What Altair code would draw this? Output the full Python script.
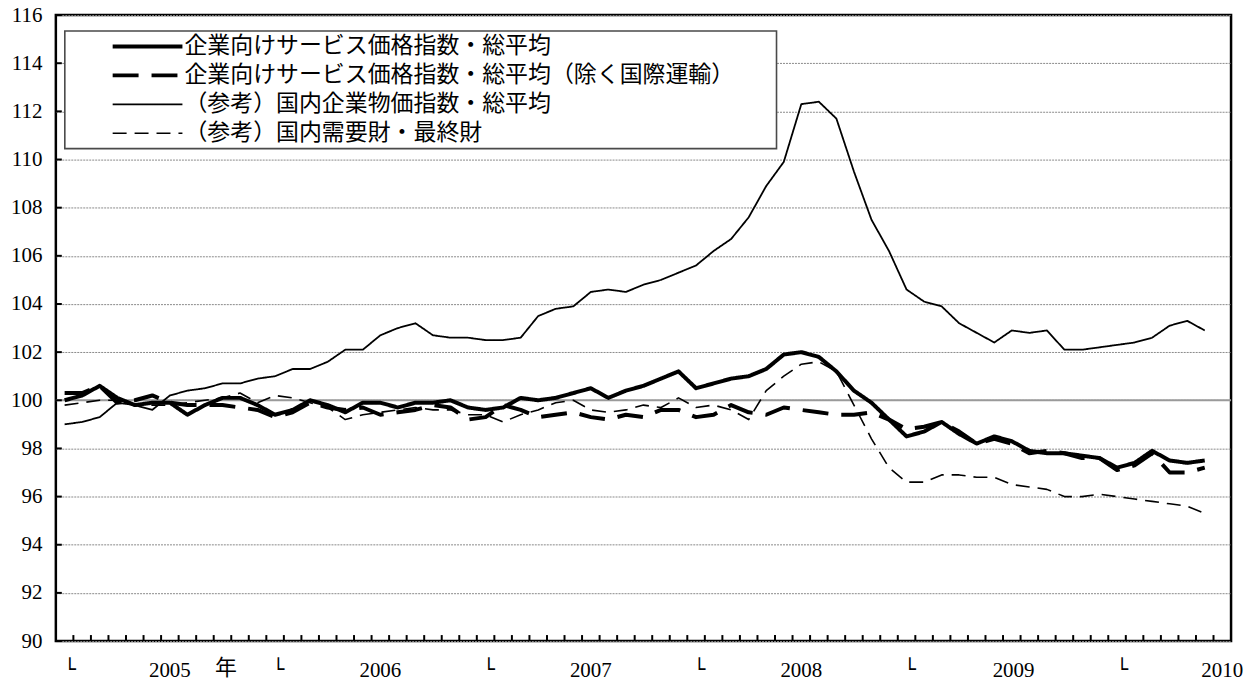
import altair as alt
import pandas as pd

# ---------------- data ----------------
months = [f"{2005 + i // 12}-{i % 12 + 1:02d}" for i in range(66)]  # 2005-01 .. 2010-06

series_names = [
    "企業向けサービス価格指数・総平均",
    "企業向けサービス価格指数・総平均（除く国際運輸）",
    "（参考）国内企業物価指数・総平均",
    "（参考）国内需要財・最終財",
]

cspi = [100.0, 100.2, 100.6, 100.1, 99.8, 99.9, 99.9, 99.4, 99.8, 100.1, 100.1, 99.8,
        99.4, 99.6, 100.0, 99.8, 99.5, 99.9, 99.9, 99.7, 99.9, 99.9, 100.0, 99.7,
        99.6, 99.7, 100.1, 100.0, 100.1, 100.3, 100.5, 100.1, 100.4, 100.6, 100.9, 101.2,
        100.5, 100.7, 100.9, 101.0, 101.3, 101.9, 102.0, 101.8, 101.2, 100.4, 99.9, 99.2,
        98.5, 98.7, 99.1, 98.6, 98.2, 98.5, 98.3, 97.9, 97.8, 97.8, 97.7, 97.6,
        97.2, 97.4, 97.9, 97.5, 97.4, 97.5]

cspi_ex = [100.3, 100.3, 100.6, 99.9, 100.0, 100.2, 99.9, 99.8, 99.8, 99.8, 99.7, 99.6,
           99.3, 99.5, 99.9, 99.7, 99.6, 99.7, 99.4, 99.5, 99.6, 99.8, 99.7, 99.2,
           99.3, 99.8, 99.6, 99.3, 99.4, 99.5, 99.3, 99.2, 99.4, 99.3, 99.6, 99.6,
           99.3, 99.4, 99.8, 99.5, 99.4, 99.7, 99.6, 99.5, 99.4, 99.4, 99.5, 99.2,
           98.8, 98.9, 99.1, 98.7, 98.2, 98.4, 98.2, 97.8, 97.9, 97.8, 97.6, 97.6,
           97.1, 97.3, 97.8, 97.0, 97.0, 97.2]

cgpi = [99.0, 99.1, 99.3, 99.9, 99.8, 99.6, 100.2, 100.4, 100.5, 100.7, 100.7, 100.9,
        101.0, 101.3, 101.3, 101.6, 102.1, 102.1, 102.7, 103.0, 103.2, 102.7, 102.6, 102.6,
        102.5, 102.5, 102.6, 103.5, 103.8, 103.9, 104.5, 104.6, 104.5, 104.8, 105.0, 105.3,
        105.6, 106.2, 106.7, 107.6, 108.9, 109.9, 112.3, 112.4, 111.7, 109.5, 107.5, 106.2,
        104.6, 104.1, 103.9, 103.2, 102.8, 102.4, 102.9, 102.8, 102.9, 102.1, 102.1, 102.2,
        102.3, 102.4, 102.6, 103.1, 103.3, 102.9]

final_goods = [99.8, 99.9, 100.0, 100.0, 99.8, 99.8, 99.8, 99.9, 100.0, 100.1, 100.3, 99.9,
               100.2, 100.1, 99.9, 99.7, 99.2, 99.4, 99.5, 99.6, 99.7, 99.6, 99.6, 99.4,
               99.4, 99.1, 99.4, 99.6, 99.9, 100.0, 99.6, 99.5, 99.6, 99.8, 99.7, 100.1,
               99.7, 99.8, 99.6, 99.2, 100.4, 101.0, 101.5, 101.6, 101.2, 99.8, 98.4, 97.2,
               96.6, 96.6, 96.9, 96.9, 96.8, 96.8, 96.5, 96.4, 96.3, 96.0, 96.0, 96.1,
               96.0, 95.9, 95.8, 95.7, 95.6, 95.3]

y_ticks = [90, 92, 94, 96, 98, 100, 102, 104, 106, 108, 110, 112, 114, 116]
ref_level = [100]
x_tick_pos = [i + 0.5 for i in range(66)]  # month boundaries
corner_text = ["└", "└", "└", "└", "└", "└"]
corner_pos = [0.3, 12.2, 24.2, 36.2, 48.2, 60.3]
year_text = ["2005", "2006", "2007", "2008", "2009", "2010"]
year_pos = [6.0, 18.0, 30.0, 42.0, 54.1, 66.0]
nen_text = ["年"]
nen_pos = [9.2]
title_text = ["（2005年平均=100）"]

# ---------------- tables ----------------
rows = []
for name, vals in zip(series_names, [cspi, cspi_ex, cgpi, final_goods]):
    for i, (mo, v) in enumerate(zip(months, vals)):
        rows.append({"series": name, "month": mo, "m": i, "value": v})
df = pd.DataFrame(rows)

xscale = alt.Scale(domain=[-0.5, 66.5], nice=False, zero=False)
yscale = alt.Scale(domain=[90, 116], nice=False, zero=False)

W, H = 1179, 628
JP = "Noto Sans CJK JP"
SERIF = "Liberation Serif"

yaxis = alt.Axis(
    values=y_ticks, title=None, grid=True, gridColor="#8a8a8a", gridDash=[2, 1], gridWidth=1,
    ticks=False, domain=False, labelFont=SERIF, labelFontSize=21, labelColor="black",
    labelPadding=14, labelOverlap=False)

legend = alt.Legend(
    title=None, orient="none", legendX=9, legendY=16,
    strokeColor="transparent", padding=4,
    symbolType="stroke", symbolSize=4900, symbolOffset=42, symbolStrokeColor="black",
    clipHeight=23, rowPadding=5,
    labelFont=JP, labelFontSize=23, labelColor="black", labelOffset=0, labelLimit=1000,
)

# legend frame (white box with grey border, behind the legend entries)
frame = alt.Chart(pd.DataFrame({"k": [0]})).mark_rect(
    fill="white", stroke="#4a4a4a", strokeWidth=1.6).encode(
    x=alt.value(9), x2=alt.value(723), y=alt.value(16), y2=alt.value(134))

lines = alt.Chart(df).mark_line(color="black", strokeJoin="round").encode(
    x=alt.X("m:Q", scale=xscale, axis=None),
    y=alt.Y("value:Q", scale=yscale, axis=yaxis),
    strokeDash=alt.StrokeDash("series:N", scale=alt.Scale(
        domain=series_names, range=[[1, 0], [26, 13], [1, 0], [14, 8]]), legend=legend),
    strokeWidth=alt.StrokeWidth("series:N", scale=alt.Scale(
        type="ordinal", domain=series_names, range=[4, 4, 1.8, 1.6]), legend=legend),
)

ref_df = pd.DataFrame({"v": ref_level})
ref_rule = alt.Chart(ref_df).mark_rule(color="#9a9a9a", strokeWidth=2).encode(
    y=alt.Y("v:Q", scale=yscale, axis=yaxis))

yt_df = pd.DataFrame({"v": y_ticks})
y_tick_marks = alt.Chart(yt_df).mark_rule(color="black", strokeWidth=2).encode(
    y=alt.Y("v:Q", scale=yscale, axis=yaxis), x=alt.value(0), x2=alt.value(6))

xt_df = pd.DataFrame({"m": x_tick_pos})
x_tick_marks = alt.Chart(xt_df).mark_rule(color="black", strokeWidth=2).encode(
    x=alt.X("m:Q", scale=xscale, axis=None), y=alt.value(H), y2=alt.value(H - 6))

corner_df = pd.DataFrame({"t": corner_text, "m": corner_pos})
corner_lbl = alt.Chart(corner_df).mark_text(
    font="DejaVu Sans", fontSize=20, color="black", align="center", baseline="alphabetic").encode(
    x=alt.X("m:Q", scale=xscale, axis=None), y=alt.value(H + 35), text="t:N")

year_df = pd.DataFrame({"t": year_text, "m": year_pos})
year_lbl = alt.Chart(year_df).mark_text(
    font=SERIF, fontSize=21, color="black", align="center", baseline="alphabetic").encode(
    x=alt.X("m:Q", scale=xscale, axis=None), y=alt.value(H + 36), text="t:N")

nen_df = pd.DataFrame({"t": nen_text, "m": nen_pos})
nen_lbl = alt.Chart(nen_df).mark_text(
    font=JP, fontSize=22, color="black", align="center", baseline="alphabetic").encode(
    x=alt.X("m:Q", scale=xscale, axis=None), y=alt.value(H + 34), text="t:N")

title_df = pd.DataFrame({"t": title_text})
title_lbl = alt.Chart(title_df).mark_text(
    font=f"{SERIF}, {JP}", fontSize=22, color="black", align="left", baseline="alphabetic").encode(
    x=alt.value(9), y=alt.value(-11), text="t:N")

chart = alt.layer(
    ref_rule, frame, lines, y_tick_marks, x_tick_marks, corner_lbl, year_lbl, nen_lbl, title_lbl
).properties(
    width=W, height=H,
    padding={"left": 48, "top": 6, "right": 16, "bottom": 40},
    autosize=alt.AutoSizeParams(type="none"),
    background="white",
).configure_view(stroke="black", strokeWidth=2.5)

chart.save("out.html", embed_options={"renderer": "svg", "actions": False})
